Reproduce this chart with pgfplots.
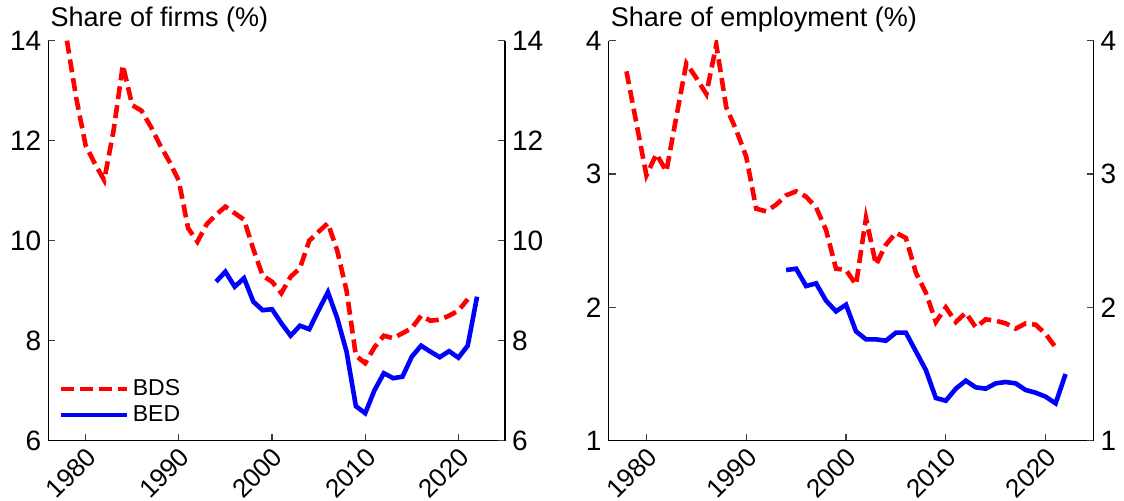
\documentclass[border=0pt]{standalone}
\usepackage{fontspec}
\setmainfont{Liberation Sans}
\usepackage{pgfplots}
\pgfplotsset{compat=1.18}
\usepackage{pgfplotstable}

\pgfplotstableread{
year val
1978 14.0
1979 12.85
1980 11.91
1981 11.54
1982 11.21
1983 12.2
1984 13.51
1985 12.71
1986 12.6
1987 12.28
1988 11.91
1989 11.58
1990 11.2
1991 10.25
1992 9.98
1993 10.33
1994 10.52
1995 10.68
1996 10.55
1997 10.42
1998 9.83
1999 9.3
2000 9.18
2001 8.95
2002 9.28
2003 9.45
2004 10.0
2005 10.18
2006 10.35
2007 9.8
2008 9.0
2009 7.7
2010 7.55
2011 7.87
2012 8.1
2013 8.05
2014 8.15
2015 8.25
2016 8.5
2017 8.4
2018 8.42
2019 8.5
2020 8.6
2021 8.83
}\firmsbds

\pgfplotstableread{
year val
1994 9.18
1995 9.38
1996 9.08
1997 9.25
1998 8.78
1999 8.61
2000 8.63
2001 8.35
2002 8.1
2003 8.3
2004 8.23
2005 8.61
2006 8.97
2007 8.45
2008 7.78
2009 6.69
2010 6.55
2011 7.01
2012 7.35
2013 7.25
2014 7.28
2015 7.68
2016 7.9
2017 7.78
2018 7.67
2019 7.79
2020 7.66
2021 7.9
2022 8.88
}\firmsbed

\pgfplotstableread{
year val
1978 3.77
1979 3.38
1980 2.99
1981 3.15
1982 3.02
1983 3.43
1984 3.83
1985 3.72
1986 3.6
1987 3.97
1988 3.5
1989 3.33
1990 3.13
1991 2.74
1992 2.72
1993 2.77
1994 2.84
1995 2.87
1996 2.83
1997 2.75
1998 2.58
1999 2.29
2000 2.28
2001 2.17
2002 2.67
2003 2.32
2004 2.47
2005 2.56
2006 2.52
2007 2.26
2008 2.11
2009 1.89
2010 2.0
2011 1.89
2012 1.96
2013 1.85
2014 1.91
2015 1.9
2016 1.88
2017 1.84
2018 1.88
2019 1.87
2020 1.8
2021 1.7
}\empbds

\pgfplotstableread{
year val
1994 2.28
1995 2.29
1996 2.16
1997 2.18
1998 2.05
1999 1.97
2000 2.02
2001 1.82
2002 1.76
2003 1.76
2004 1.75
2005 1.81
2006 1.81
2007 1.67
2008 1.53
2009 1.32
2010 1.3
2011 1.39
2012 1.45
2013 1.4
2014 1.39
2015 1.43
2016 1.44
2017 1.43
2018 1.38
2019 1.36
2020 1.33
2021 1.28
2022 1.5
}\empbed

\newcommand{\ticksize}{\fontsize{14}{16}\selectfont}
\newcommand{\xticksize}{\fontsize{13}{15}\selectfont}
\newcommand{\titlesize}{\fontsize{13.5}{15}\selectfont}
\newcommand{\legsize}{\fontsize{11.5}{12}\selectfont}

\pgfplotsset{
  base/.style={
    scale only axis, height=200pt, anchor=south west,
    tick align=inside, major tick length=3.5pt,
    /pgf/number format/assume math mode=true,
    axis line style={black, line width=0.6pt},
    tick style={black!75, line width=0.6pt},
    yticklabel style={font=\ticksize},
  },
  panel/.style={
    base,
    axis x line*=bottom, axis y line*=left,
    xtick={1980,1990,2000,2010,2020},
    xticklabels={1980,1990,2000,2010,2020},
    xticklabel style={rotate=45, anchor=north east, font=\xticksize, inner sep=1pt, yshift=-0.5pt, xshift=-1pt},
    title style={at={(0,1)}, anchor=base west, font=\titlesize, inner sep=0pt, xshift=1pt, yshift=1pt},
  },
  twin/.style={
    base,
    axis x line=none, axis y line*=right,
  },
  bds/.style={red, line width=2.3pt, dash pattern=on 6.5pt off 3pt},
  bed/.style={blue, line width=2.3pt},
}

\begin{document}
\begin{tikzpicture}
\useasboundingbox (0,0) rectangle (562pt,250.5pt);
% left panel
\begin{axis}[panel, at={(24.15pt,30.15pt)}, width=228.35pt,
  xmin=1976, xmax=2025, ymin=6, ymax=14, ytick={6,8,10,12,14},
  title={Share of firms (\%)},
  legend style={at={(0.021,0.03)}, anchor=south west, draw=none, fill=none,
    font=\legsize, inner sep=0pt, row sep=-0.5pt, cells={anchor=west}},
  legend image code/.code={\draw[#1] (0pt,0pt) -- (33pt,0pt);},
]
\addplot[bds] table[x=year,y=val] {\firmsbds};
\addplot[bed] table[x=year,y=val] {\firmsbed};
\legend{BDS,BED}
\end{axis}
\begin{axis}[twin, at={(24.15pt,30.15pt)}, width=228.35pt,
  xmin=1976, xmax=2025, ymin=6, ymax=14, ytick={6,8,10,12,14}]
\end{axis}
% right panel
\begin{axis}[panel, at={(304.25pt,30.15pt)}, width=242.5pt,
  xmin=1976.2, xmax=2024.8, ymin=1, ymax=4, ytick={1,2,3,4},
  title={Share of employment (\%)}]
\addplot[bds] table[x=year,y=val] {\empbds};
\addplot[bed] table[x=year,y=val] {\empbed};
\end{axis}
\begin{axis}[twin, at={(304.25pt,30.15pt)}, width=242.5pt,
  xmin=1976.2, xmax=2024.8, ymin=1, ymax=4, ytick={1,2,3,4}]
\end{axis}
\end{tikzpicture}
\end{document}
